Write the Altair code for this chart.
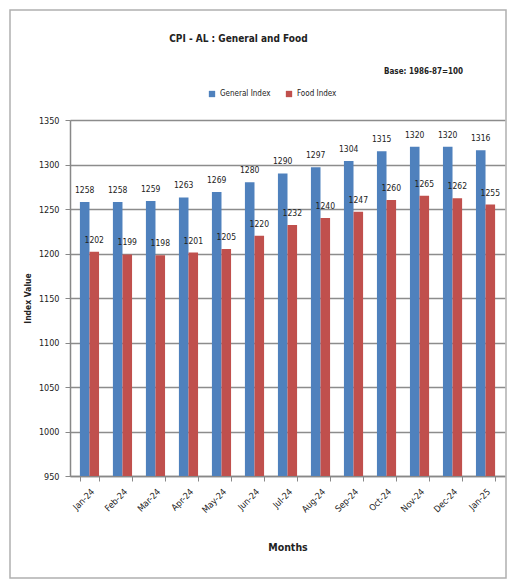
import altair as alt
import pandas as pd

months = ["Jan-24", "Feb-24", "Mar-24", "Apr-24", "May-24", "Jun-24", "Jul-24",
          "Aug-24", "Sep-24", "Oct-24", "Nov-24", "Dec-24", "Jan-25"]
general_index = [1258, 1258, 1259, 1263, 1269, 1280, 1290, 1297, 1304, 1315, 1320, 1320, 1316]
food_index = [1202, 1199, 1198, 1201, 1205, 1220, 1232, 1240, 1247, 1260, 1265, 1262, 1255]
series_names = ["General Index", "Food Index"]
series_colors = ["#4F81BD", "#C0504D"]

rows = []
for m, g, f in zip(months, general_index, food_index):
    rows.append({"Month": m, "Series": series_names[0], "Value": g})
    rows.append({"Month": m, "Series": series_names[1], "Value": f})
df = pd.DataFrame(rows)

FONT = "Liberation Sans Narrow, Arial Narrow, DejaVu Sans Condensed, sans-serif"
W, H = 435, 356

x_enc = alt.X("Month:N", sort=months,
              scale=alt.Scale(paddingInner=0.42, paddingOuter=0.3),
              axis=alt.Axis(title="Months", labelAngle=315, labelAlign="right",
                            labelBaseline="top", labelFontSize=9, labelPadding=6,
                            tickBand="extent", tickColor="#888888", tickSize=5,
                            domainColor="#888888", domainWidth=1.5,
                            titleFontSize=10.5, titleFontWeight="bold", titlePadding=28,
                            labelColor="#222222", titleColor="#222222"))
y_enc = alt.Y("Value:Q",
              scale=alt.Scale(domain=[950, 1350], nice=False, zero=False),
              axis=alt.Axis(title="Index Value", values=list(range(950, 1351, 50)),
                            format="d",
                            labelFontSize=9, labelPadding=6, tickSize=5,
                            tickColor="#888888", domainColor="#888888", domainWidth=1.5,
                            gridColor="#8c8c8c", gridWidth=1.6,
                            titleFontSize=8.5, titleFontWeight="bold", titlePadding=6,
                            labelColor="#222222", titleColor="#222222"))

base = alt.Chart(df).encode(
    x=x_enc,
    xOffset=alt.XOffset("Series:N", sort=series_names),
)

bars = base.mark_bar(clip=True).encode(
    y=y_enc,
    y2=alt.datum(950),
    color=alt.Color("Series:N", sort=series_names,
                    scale=alt.Scale(domain=series_names, range=series_colors),
                    legend=alt.Legend(title=None, orient="none", direction="horizontal",
                                      legendX=138, legendY=-30, symbolType="square",
                                      symbolSize=40, labelFontSize=8, columnPadding=14,
                                      labelColor="#222222")),
)

labels = base.mark_text(dy=-12, fontSize=8.5, font=FONT, color="#222222").encode(
    y="Value:Q",
    text="Value:Q",
)

frame = alt.Chart(pd.DataFrame({"a": [0]})).mark_rect(
    fill=None, stroke="#b0b0b0", strokeWidth=1.5, clip=False
).encode(
    x=alt.value(-60), x2=alt.value(W + 1),
    y=alt.value(-110), y2=alt.value(H + 102),
)

base_note = alt.Chart(pd.DataFrame({"t": ["Base: 1986-87=100"]})).mark_text(
    fontSize=8, font=FONT, fontWeight="bold", align="left", color="#222222"
).encode(
    x=alt.value(314), y=alt.value(-48), text="t:N"
)

chart = alt.layer(frame, bars, labels, base_note).properties(
    width=W, height=H,
    autosize=alt.AutoSizeParams(type="none"),
    padding={"left": 62, "top": 112, "right": 2, "bottom": 104},
    title=alt.TitleParams("CPI - AL : General and Food", anchor="start", dx=160,
                          offset=-35, fontSize=10, fontWeight="bold", font=FONT,
                          color="#222222"),
).configure(font=FONT).configure_view(stroke=None).configure_axis(
    labelFont=FONT, titleFont=FONT
).configure_legend(labelFont=FONT)

chart.save("out.html", embed_options={"renderer": "svg", "actions": False})
